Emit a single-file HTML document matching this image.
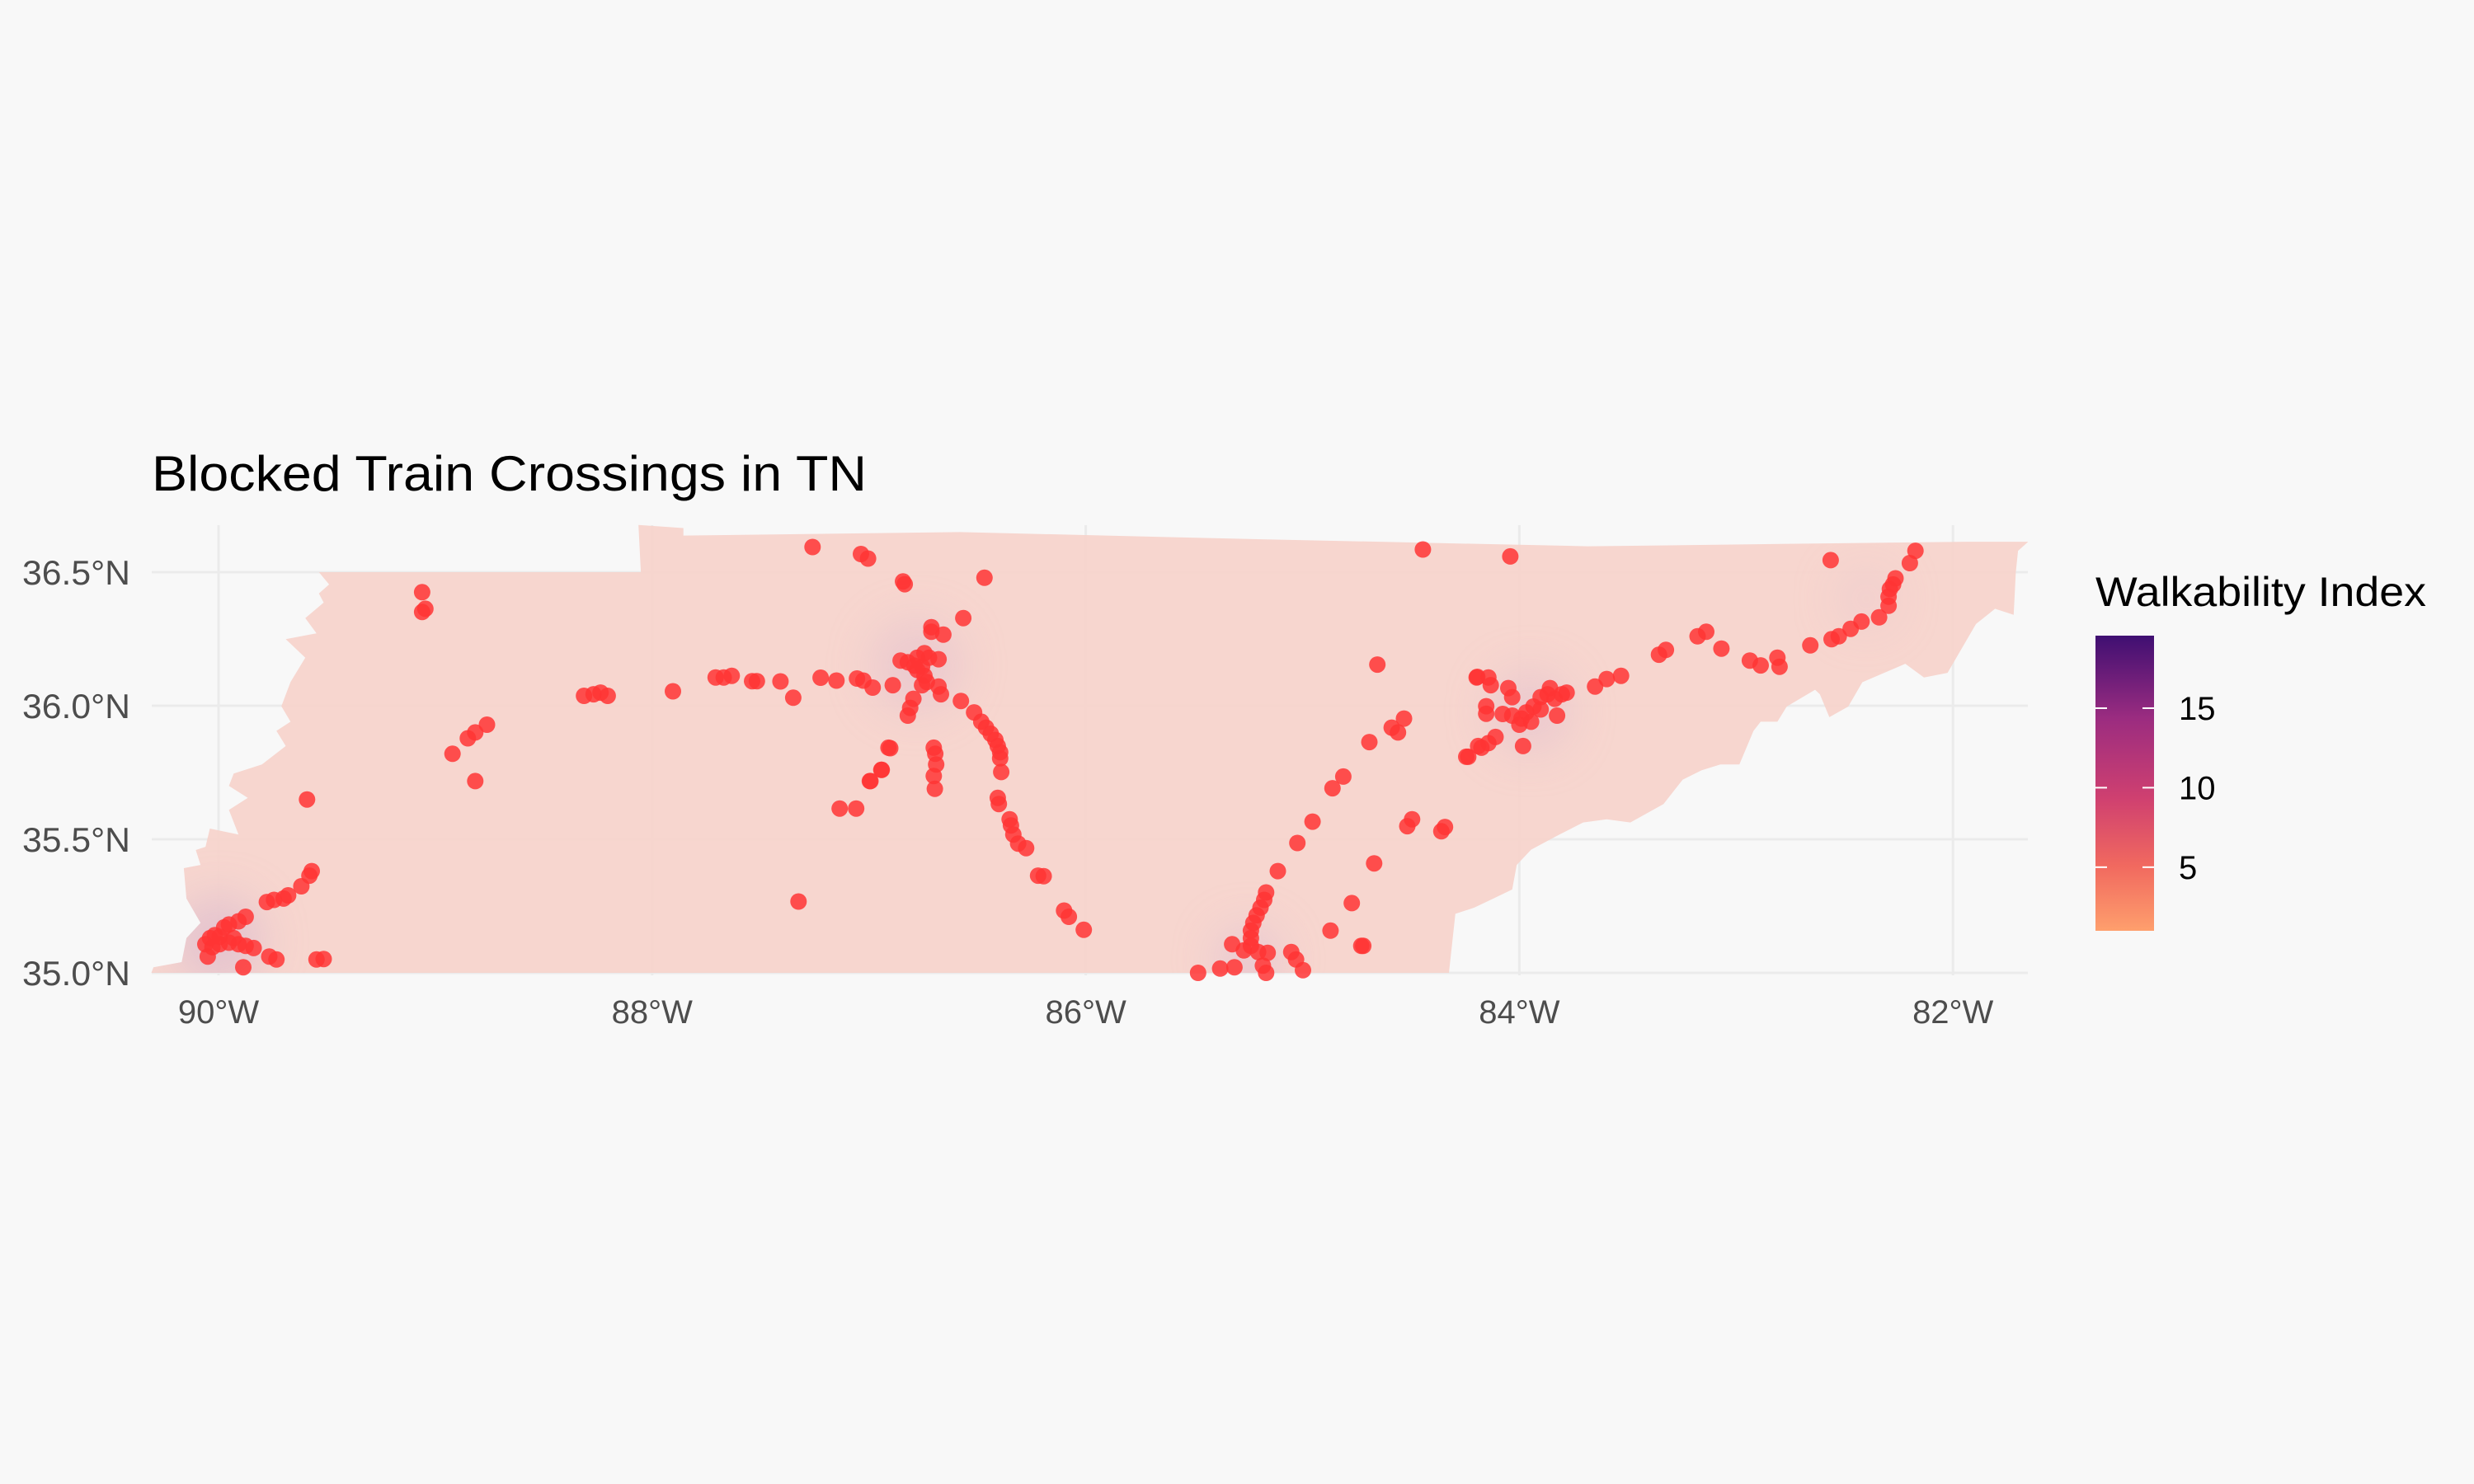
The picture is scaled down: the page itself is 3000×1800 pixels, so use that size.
<!DOCTYPE html>
<html><head><meta charset="utf-8">
<style>
html,body{margin:0;padding:0;background:#f8f8f8;}
svg{display:block;font-family:"Liberation Sans",Arial,sans-serif;}
</style></head>
<body>
<svg id="chart" width="3000" height="1800" viewBox="0 0 3000 1800" xmlns="http://www.w3.org/2000/svg">
<rect width="3000" height="1800" fill="#f8f8f8"/>
<text x="184" y="595" font-size="60" fill="#000" textLength="867" lengthAdjust="spacingAndGlyphs">Blocked Train Crossings in TN</text>
<g id="grid"></g>
<g id="map"></g>
<g id="points"></g>
<g id="axes"></g>
<g id="legend">
<defs>
<linearGradient id="magma" x1="0" y1="1" x2="0" y2="0">
<stop offset="0" stop-color="#fe9f6d"/>
<stop offset="0.22" stop-color="#f1695f"/>
<stop offset="0.45" stop-color="#cf4070"/>
<stop offset="0.72" stop-color="#9b2c80"/>
<stop offset="1" stop-color="#3f0f72"/>
</linearGradient>
</defs>
<text x="2541" y="735" font-size="50" fill="#000" textLength="401" lengthAdjust="spacingAndGlyphs">Walkability Index</text>
<rect x="2541" y="771" width="71" height="358" fill="url(#magma)"/>
<g id="legend-ticks"></g>
</g>
</svg>
<script>
// ---- data ----
const lonTicks = [-90, -88, -86, -84, -82];
const lonTickLabels = ["90°W", "88°W", "86°W", "84°W", "82°W"];
const latTicks = [35.0, 35.5, 36.0, 36.5];
const latTickLabels = ["35.0°N", "35.5°N", "36.0°N", "36.5°N"];
const legendTicks = [5, 10, 15];
const legendRange = [1.0, 19.56];

const outlineLon = [-89.537,-89.417,-88.052,-88.063,-87.856,-87.856,-86.58,-85.29,-83.684,-81.937,-81.653,-81.70,-81.71,-81.72,-81.806,-81.894,-82.025,-82.134,-82.22,-82.418,-82.483,-82.57,-82.614,-82.636,-82.767,-82.81,-82.887,-82.92,-82.985,-83.073,-83.16,-83.247,-83.335,-83.488,-83.597,-83.706,-83.815,-83.946,-84.012,-84.033,-84.12,-84.208,-84.295,-84.325,
-90.31,-90.30,-90.17,-90.148,-90.083,-90.148,-90.16,-90.083,-90.105,-90.06,-90.04,-89.908,-89.952,-89.865,-89.952,-89.93,-89.80,-89.69,-89.733,-89.668,-89.71,-89.668,-89.60,-89.69,-89.548,-89.60,-89.515,-89.537,-89.49];
const outlineLat = [36.50,36.50,36.50,36.677,36.665,36.637,36.65,36.625,36.597,36.614,36.614,36.58,36.50,36.34,36.363,36.306,36.123,36.106,36.157,36.088,35.997,35.957,36.043,36.06,35.997,35.94,35.94,35.906,35.78,35.78,35.758,35.723,35.632,35.563,35.575,35.563,35.518,35.461,35.404,35.312,35.278,35.244,35.221,35.0,
35.0,35.021,35.04,35.13,35.187,35.278,35.392,35.404,35.46,35.472,35.54,35.518,35.61,35.655,35.70,35.746,35.78,35.849,35.906,35.94,35.998,36.089,36.18,36.249,36.271,36.328,36.386,36.42,36.454];

const crossLon = [-89.061,-89.061,-89.046,-87.26,-87.037,-87.004,-87.904,-87.707,-87.67,-87.633,-87.539,-87.517,-87.408,-87.349,-87.223,-87.15,-87.055,-87.026,-86.983,
-88.314,-88.27,-88.238,-88.205,-88.762,-88.816,-88.85,-88.921,-88.816,-89.592,-89.57,-89.581,-89.618,-89.679,-89.70,-89.744,-89.777,
-89.875,-89.908,-89.952,-89.974,-90.017,-90.039,-90.061,-90.028,-89.995,-89.952,-89.908,-89.875,-89.838,-90.05,-89.886,-89.766,-89.733,-89.548,-89.515,-89.995,-89.93,
-87.325,-87.135,-87.059,-86.993,-86.943,-86.91,
-86.843,-86.835,-86.467,-86.565,-86.712,-86.712,-86.657,
-86.854,-86.821,-86.777,-86.744,-86.723,-86.755,-86.744,-86.733,-86.755,-86.679,-86.777,-86.79,
-86.89,-86.679,-86.668,-86.795,-86.81,-86.821,-86.576,
-86.515,-86.482,-86.46,-86.438,-86.417,-86.406,-86.395,-86.395,-86.39,
-86.902,-86.701,-86.694,-86.69,-86.701,-86.696,-86.941,-86.996,
-86.406,-86.401,-86.351,-86.345,-86.334,-86.312,-86.275,-86.22,-86.194,-86.10,-86.078,-86.009,
-84.655,-84.194,
-84.954,-85.024,-85.114,-85.168,-85.177,-85.194,-85.212,-85.227,-85.238,-85.238,-85.238,-85.325,-85.271,-85.205,-85.161,-85.183,-85.168,-85.052,-85.03,-84.998,-85.38,-85.314,-85.482,
-84.871,-84.729,-84.773,-84.67,
-84.692,-84.589,-84.56,-84.532,-84.812,-84.862,-84.495,-84.517,-84.343,-84.36,
-84.445,-84.245,-84.19,
-84.042,-84.153,-84.153,-84.197,-84.143,-84.132,-84.051,-84.033,
-84.077,-84.033,-83.99,-83.946,-83.968,-83.935,-83.902,-83.87,-83.859,-83.837,-83.804,-83.782,-83.826,-84.0,-83.983,-83.902,
-84.11,-84.143,-84.175,-84.236,
-83.651,-83.597,-83.531,-83.356,-83.324,-83.178,-83.138,-83.068,
-82.937,-82.887,-82.81,-82.8,-82.658,-82.56,-82.527,-82.472,-82.422,-82.341,-82.297,-82.297,-82.291,-82.276,-82.265,-82.199,-82.173,-82.564,-84.72];
const crossLat = [36.425,36.351,36.363,36.594,36.568,36.551,36.054,36.106,36.106,36.112,36.092,36.092,36.091,36.03,36.105,36.094,36.102,36.094,36.068,
36.037,36.043,36.049,36.037,35.929,35.90,35.878,35.82,35.718,35.649,35.381,35.364,35.324,35.29,35.278,35.273,35.265,
35.21,35.193,35.181,35.17,35.141,35.13,35.107,35.096,35.107,35.113,35.107,35.101,35.093,35.061,35.021,35.061,35.05,35.05,35.052,35.135,35.13,
35.267,35.615,35.615,35.718,35.76,35.843,
36.465,36.455,36.479,36.328,36.277,36.294,36.266,
36.169,36.163,36.18,36.197,36.18,36.146,36.112,36.089,36.077,36.174,36.134,36.15,
36.077,36.072,36.043,36.026,35.992,35.963,36.018,
35.975,35.94,35.918,35.895,35.872,35.849,35.826,35.803,35.752,
35.841,35.843,35.82,35.78,35.737,35.689,35.76,35.718,
35.655,35.632,35.575,35.552,35.518,35.484,35.467,35.364,35.362,35.233,35.21,35.161,
36.154,36.108,
35.566,35.486,35.381,35.301,35.273,35.244,35.215,35.187,35.158,35.13,35.101,35.107,35.084,35.078,35.075,35.027,35.0,35.078,35.05,35.01,35.016,35.021,35.0,
35.158,35.101,35.261,35.41,
35.864,35.918,35.90,35.952,35.735,35.691,35.575,35.549,35.546,35.53,
36.585,35.809,35.849,
36.559,35.998,35.97,36.106,36.106,36.077,36.066,36.032,
35.969,35.963,35.952,35.94,35.975,35.997,36.032,36.043,36.066,36.026,36.043,36.049,35.963,35.929,35.849,35.986,
35.883,35.86,35.843,35.809,
36.072,36.1,36.112,36.191,36.209,36.26,36.277,36.214,
36.169,36.151,36.18,36.146,36.226,36.249,36.26,36.288,36.315,36.331,36.374,36.408,36.437,36.454,36.477,36.534,36.58,36.545,35.101];

// ---- scales ----
const xScale = lon => 265 + (lon + 90) * 262.9;
const yScale = lat => 1180 - (lat - 35) * 324;
const legendY = v => 1129 - (v - legendRange[0]) / (legendRange[1] - legendRange[0]) * 358;
const NS = "http://www.w3.org/2000/svg";
function mk(tag, attrs, parent) {
  const el = document.createElementNS(NS, tag);
  for (const k in attrs) el.setAttribute(k, attrs[k]);
  parent.appendChild(el);
  return el;
}

// grid
const grid = document.getElementById('grid');
lonTicks.forEach(lon => {
  const l = mk('line', {x1: xScale(lon), x2: xScale(lon), y1: 637, y2: 1183, stroke: '#ebebeb', 'stroke-width': 3}, grid);
  
  
});
latTicks.forEach(lat => {
  const l = mk('line', {x1: 184, x2: 2459, y1: yScale(lat), y2: yScale(lat), stroke: '#ebebeb', 'stroke-width': 3}, grid);
  
  
});

// map
const map = document.getElementById('map');
const pts = outlineLon.map((lon, i) => xScale(lon).toFixed(1) + ',' + yScale(outlineLat[i]).toFixed(1)).join(' ');
const defs = mk('defs', {}, map);
const cp = mk('clipPath', {id: 'tnclip'}, defs);
mk('polygon', {points: pts}, cp);
const flt = mk('filter', {id: 'blur', x: '-50%', y: '-50%', width: '200%', height: '200%'}, defs);
mk('feGaussianBlur', {stdDeviation: 25}, flt);
const state = mk('polygon', {points: pts, fill: '#f6d3cb', 'fill-opacity': 0.92}, map);


const patches = mk('g', {'clip-path': 'url(#tnclip)', filter: 'url(#blur)'}, map);
[[-90.0,35.12,55,'#d9b8cf'],[-86.78,36.15,55,'#e4c2cf'],[-83.95,35.98,50,'#e4c2cf'],[-85.25,35.05,40,'#e0bfd0'],[-82.4,36.4,35,'#ecc9cd']].forEach(p => {
  const c = mk('circle', {cx: xScale(p[0]), cy: yScale(p[1]), r: p[2], fill: p[3], opacity: 0.6}, patches);
  
  
});

// points
const pg = document.getElementById('points');
crossLon.forEach((lon, i) => {
  const c = mk('circle', {cx: xScale(lon).toFixed(1), cy: yScale(crossLat[i]).toFixed(1), r: 10, fill: '#ff3535', 'fill-opacity': 0.85}, pg);
  
  
});

// axes labels
const axes = document.getElementById('axes');
lonTicks.forEach((lon, i) => {
  const t = mk('text', {x: xScale(lon), y: 1241, 'font-size': 40, fill: '#4d4d4d', 'text-anchor': 'middle'}, axes);
  t.textContent = lonTickLabels[i];
  
  
});
latTicks.forEach((lat, i) => {
  const t = mk('text', {x: 158, y: yScale(lat) + 15, 'font-size': 42, fill: '#4d4d4d', 'text-anchor': 'end', textLength: 131, lengthAdjust: 'spacingAndGlyphs'}, axes);
  t.textContent = latTickLabels[i];
  
  
});

// legend ticks
const lt = document.getElementById('legend-ticks');
legendTicks.forEach(v => {
  const y = legendY(v);
  const a = mk('line', {x1: 2541, x2: 2555, y1: y, y2: y, stroke: '#fff', 'stroke-width': 2}, lt);
  
  
  const b = mk('line', {x1: 2598, x2: 2612, y1: y, y2: y, stroke: '#fff', 'stroke-width': 2}, lt);
  
  
  const t = mk('text', {x: 2642, y: y + 14, 'font-size': 40, fill: '#000'}, lt);
  t.textContent = String(v);
  
  
});
</script>
</body></html>
